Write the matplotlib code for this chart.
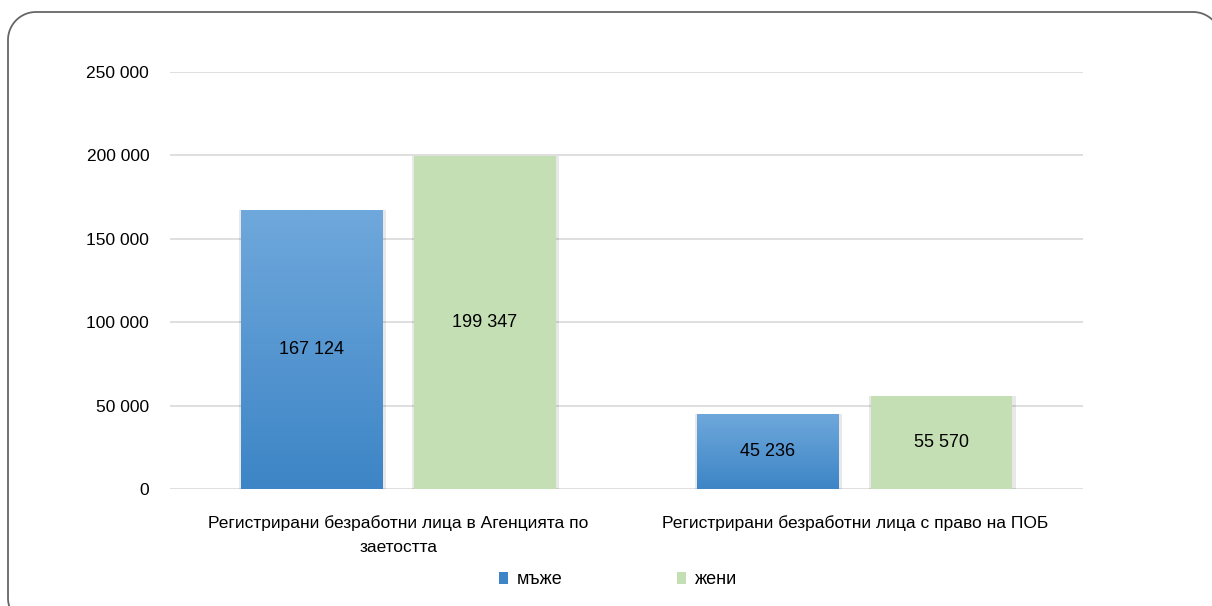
import numpy as np
import matplotlib.pyplot as plt
from matplotlib.patches import Patch
from matplotlib.colors import LinearSegmentedColormap

plt.rcParams['font.family'] = ['Liberation Sans', 'DejaVu Sans']

# Данные
categories = ["Регистрирани безработни лица в Агенцията по\nзаетостта",
              "Регистрирани безработни лица с право на ПОБ"]
men = [167124, 45236]
women = [199347, 55570]
series_names = ["мъже", "жени"]
yticks = [0, 50000, 100000, 150000, 200000, 250000]

blue_top = "#6fa8dc"
blue_bot = "#3d85c6"
green = "#c4dfb3"


def fmt(v):
    return f"{v:,}".replace(",", " ")


fig = plt.figure(figsize=(12.12, 6.06), dpi=100)

# Рамка со скруглёнными углами (в пикселях, ось y сверху вниз)
bg = fig.add_axes([0, 0, 1, 1])
bg.set_xlim(0, 1212)
bg.set_ylim(606, 0)
bg.axis("off")
r = 28
left, top, right, bottom = 8, 12, 1221, 626
t = np.linspace(0, np.pi / 2, 30)
# низ-левый угол, верх-левый угол, верх-правый угол
bl_x = left + r - r * np.sin(t)
bl_y = bottom - r + r * np.cos(t)
tl_x = left + r - r * np.cos(t)
tl_y = top + r - r * np.sin(t)
tr_x = right - r + r * np.sin(t)
tr_y = top + r - r * np.cos(t)
bg.plot(np.concatenate([bl_x, tl_x, tr_x]), np.concatenate([bl_y, tl_y, tr_y]),
        color="#666666", linewidth=1.3)

ax = fig.add_axes([170 / 1212, 1 - 489 / 606, 913 / 1212, 417 / 606])

x = np.arange(len(categories))
w = 0.31
off = 0.19
cmap = LinearSegmentedColormap.from_list("bl", [blue_bot, blue_top])

# Тени
for xp, vals in [(x - off, men), (x + off, women)]:
    ax.bar(xp + 0.002, vals, width=w + 0.012, color="#000000", alpha=0.09, zorder=2)

bars_m = ax.bar(x - off, men, width=w, color=blue_top, zorder=3)
bars_w = ax.bar(x + off, women, width=w, color=green, zorder=3)

# Градиент на синих столбцах
grad = np.linspace(0, 1, 256).reshape(-1, 1)
for b in bars_m:
    x0, y0 = b.get_x(), b.get_y()
    x1, y1 = x0 + b.get_width(), y0 + b.get_height()
    im = ax.imshow(grad, extent=[x0, x1, y0, y1], origin="lower", cmap=cmap,
                   aspect="auto", zorder=3.5)
    im.set_clip_path(b)
ax.set_xlim(-0.5, 1.5)
ax.set_ylim(0, 250000)

for b, v in zip(list(bars_m) + list(bars_w), men + women):
    ax.text(b.get_x() + b.get_width() / 2, v / 2, fmt(v), ha="center", va="center",
            fontsize=13, color="#000000", zorder=5)

ax.set_yticks(yticks)
ax.set_yticklabels([fmt(v) for v in yticks], fontsize=12.5)
ax.set_xticks(x)
ax.set_xticklabels(categories, fontsize=12.5, linespacing=1.7)
ax.tick_params(length=0, axis="y", pad=15)
ax.tick_params(length=0, axis="x", pad=19)
ax.grid(axis="y", color="#d9d9d9", linewidth=1.2, zorder=0)
for s in ax.spines.values():
    s.set_visible(False)

handles = [Patch(facecolor=blue_bot, edgecolor="none"), Patch(facecolor=green, edgecolor="none")]
fig.legend(handles, series_names, loc="center", bbox_to_anchor=(618 / 1212, 1 - 580 / 606),
           ncol=2, frameon=False, fontsize=13, handlelength=0.5, handleheight=0.6,
           handletextpad=0.5, columnspacing=6.3)

fig.savefig("out.png", dpi=100, facecolor="white")
